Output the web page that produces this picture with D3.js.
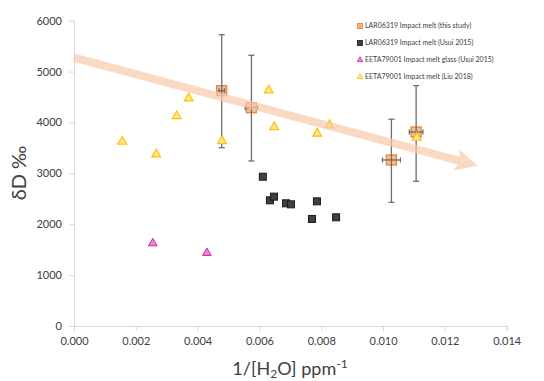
<!DOCTYPE html>
<html>
<head>
<meta charset="utf-8">
<script src="https://cdn.jsdelivr.net/npm/d3@7"></script>
<style>
  body { margin: 0; background: #fff; }
  svg text { font-family: Lato, "Liberation Sans", sans-serif; }
</style>
</head>
<body>
<svg id="chart" width="544" height="381"></svg>
<script>
// LAR06319 Impact melt (this study): x, y, x error, y error (low/high)
const thisStudyX = [0.00478, 0.00574, 0.01027, 0.01107];
const thisStudyY = [4625, 4291, 3263, 3813];
const thisStudyXErr = [0.00009, 0.00020, 0.00029, 0.00022];
const thisStudyYLow = [3504, 3243, 2431, 2844];
const thisStudyYHigh = [5725, 5320, 4063, 4723];

// LAR06319 Impact melt (Usui 2015)
const usuiLarX = [0.00611, 0.00634, 0.00647, 0.00686, 0.00702, 0.00770, 0.00786, 0.00848];
const usuiLarY = [2934, 2470, 2542, 2411, 2391, 2103, 2450, 2136];

// EETA79001 Impact melt glass (Usui 2015)
const usuiEetaX = [0.00255, 0.00430];
const usuiEetaY = [1625, 1435];

// EETA79001 Impact melt (Liu 2018)
const liuX = [0.00156, 0.00266, 0.00332, 0.00371, 0.00479, 0.00630, 0.00648, 0.00787, 0.00827, 0.01109];
const liuY = [3622, 3374, 4127, 4475, 3636, 4632, 3911, 3780, 3950, 3701];

// trend arrow, start and end in data units
const arrowX = [0.0, 0.01306];
const arrowY = [5273, 3151];

const xTicks = [0, 0.002, 0.004, 0.006, 0.008, 0.010, 0.012, 0.014];
const yTicks = [0, 1000, 2000, 3000, 4000, 5000, 6000];

const legendLabels = [
  "LAR06319 Impact melt (this study)",
  "LAR06319 Impact melt (Usui 2015)",
  "EETA79001 Impact melt glass (Usui 2015)",
  "EETA79001 Impact melt (Liu 2018)"
];

const svg = d3.select("#chart");
const x = d3.scaleLinear().domain([0, 0.014]).range([74, 506.7]);
const y = d3.scaleLinear().domain([0, 6000]).range([326, 20.7]);

// axes
const xAxis = svg.append("g")
  .attr("transform", `translate(0,${y(0)})`)
  .call(d3.axisBottom(x).tickValues(xTicks).tickFormat(d3.format(".3f")).tickSize(5).tickPadding(6));
const yAxis = svg.append("g")
  .attr("transform", `translate(${x(0)},0)`)
  .call(d3.axisLeft(y).tickValues(yTicks).tickFormat(d3.format("d")).tickSize(5).tickPadding(7));
[xAxis, yAxis].forEach(a => {
  a.select(".domain").attr("stroke", "#d9d9d9");
  a.selectAll(".tick line").attr("stroke", "#d9d9d9");
  a.selectAll(".tick text").attr("fill", "#404040").style("font-size", "11px");
});

// axis titles
svg.append("text")
  .attr("x", 290).attr("y", 375)
  .attr("text-anchor", "middle")
  .attr("fill", "#404040")
  .style("font-size", "18px")
  .html('1/[H<tspan dy="3" style="font-size:12px">2</tspan><tspan dy="-3">O] ppm</tspan><tspan dy="-7" style="font-size:12px">-1</tspan>');

svg.append("text")
  .attr("transform", "translate(26,173) rotate(-90)")
  .attr("text-anchor", "middle")
  .attr("fill", "#404040")
  .style("font-size", "20px")
  .text("δD ‰");

const tri = d3.symbol().type(d3.symbolTriangle);

// orange squares
const sq = 10;
svg.append("g").selectAll("rect")
  .data(thisStudyX)
  .join("rect")
  .attr("x", (d) => x(d) - sq / 2)
  .attr("y", (d, i) => y(thisStudyY[i]) - sq / 2)
  .attr("width", sq).attr("height", sq)
  .attr("fill", "#f4b183").attr("fill-opacity", 0.85)
  .attr("stroke", "#ed7d31").attr("stroke-width", 1.2);

// error bars
const eb = svg.append("g").attr("stroke", "#6e6e6e").attr("stroke-width", 1.3).attr("fill", "none");
thisStudyX.forEach((d, i) => {
  const cx = x(d), cy = y(thisStudyY[i]);
  const top = y(thisStudyYHigh[i]), bot = y(thisStudyYLow[i]);
  eb.append("line").attr("x1", cx).attr("x2", cx).attr("y1", top).attr("y2", bot);
  eb.append("line").attr("x1", cx - 3).attr("x2", cx + 3).attr("y1", top).attr("y2", top);
  eb.append("line").attr("x1", cx - 3).attr("x2", cx + 3).attr("y1", bot).attr("y2", bot);
  const l = x(d - thisStudyXErr[i]), r = x(d + thisStudyXErr[i]);
  eb.append("line").attr("x1", l).attr("x2", r).attr("y1", cy).attr("y2", cy);
  eb.append("line").attr("x1", l).attr("x2", l).attr("y1", cy - 2.5).attr("y2", cy + 2.5);
  eb.append("line").attr("x1", r).attr("x2", r).attr("y1", cy - 2.5).attr("y2", cy + 2.5);
});

// black squares
const bs = 7;
svg.append("g").selectAll("rect")
  .data(usuiLarX)
  .join("rect")
  .attr("x", (d) => x(d) - bs / 2)
  .attr("y", (d, i) => y(usuiLarY[i]) - bs / 2)
  .attr("width", bs).attr("height", bs)
  .attr("fill", "#404040")
  .attr("stroke", "#1a1a1a").attr("stroke-width", 1);

// magenta triangles
svg.append("g").selectAll("path")
  .data(usuiEetaX)
  .join("path")
  .attr("d", tri.size(32))
  .attr("transform", (d, i) => `translate(${x(d)},${y(usuiEetaY[i])})`)
  .attr("fill", "#e78ad0")
  .attr("stroke", "#cc2aa8").attr("stroke-width", 1);

// yellow triangles
svg.append("g").selectAll("path")
  .data(liuX)
  .join("path")
  .attr("d", tri.size(34))
  .attr("transform", (d, i) => `translate(${x(d)},${y(liuY[i])})`)
  .attr("fill", "#ffe699")
  .attr("stroke", "#ffc000").attr("stroke-width", 1.2);

// trend arrow
const ax0 = x(arrowX[0]), ay0 = y(arrowY[0]);
const ax1 = x(arrowX[1]), ay1 = y(arrowY[1]);
const ang = Math.atan2(ay1 - ay0, ax1 - ax0);
const headLen = 18, headW = 11;
const bx = ax1 - headLen * Math.cos(ang), by = ay1 - headLen * Math.sin(ang);
const arrow = svg.append("g").attr("opacity", 0.7);
arrow.append("line")
  .attr("x1", ax0).attr("y1", ay0)
  .attr("x2", bx + 4 * Math.cos(ang)).attr("y2", by + 4 * Math.sin(ang))
  .attr("stroke", "#f8cbad").attr("stroke-width", 8);
arrow.append("path")
  .attr("d", d3.line()([
    [ax1, ay1],
    [bx - 4 * Math.cos(ang) + headW * Math.sin(ang), by - 4 * Math.sin(ang) - headW * Math.cos(ang)],
    [bx, by],
    [bx - 4 * Math.cos(ang) - headW * Math.sin(ang), by - 4 * Math.sin(ang) + headW * Math.cos(ang)]
  ]) + "Z")
  .attr("fill", "#f8cbad");

// legend
const leg = svg.append("g").attr("transform", "translate(360,26)");
legendLabels.forEach((t, i) => {
  const g = leg.append("g").attr("transform", `translate(0,${i * 17})`);
  if (i === 0) g.append("rect").attr("x", -2.5).attr("y", -2.5).attr("width", 5).attr("height", 5)
    .attr("fill", "#f4b183").attr("stroke", "#ed7d31").attr("stroke-width", 0.8);
  if (i === 1) g.append("rect").attr("x", -2.5).attr("y", -2.5).attr("width", 5).attr("height", 5)
    .attr("fill", "#404040").attr("stroke", "#1a1a1a").attr("stroke-width", 0.8);
  if (i === 2) g.append("path").attr("d", tri.size(14)()).attr("fill", "#e78ad0").attr("stroke", "#cc2aa8").attr("stroke-width", 0.8);
  if (i === 3) g.append("path").attr("d", tri.size(14)()).attr("fill", "#ffe699").attr("stroke", "#ffc000").attr("stroke-width", 0.8);
  g.append("text")
    .attr("x", 5).attr("y", 0).attr("dy", "0.35em")
    .attr("fill", "#404040")
    .style("font-size", "7px")
    .text(t);
});
</script>
</body>
</html>
